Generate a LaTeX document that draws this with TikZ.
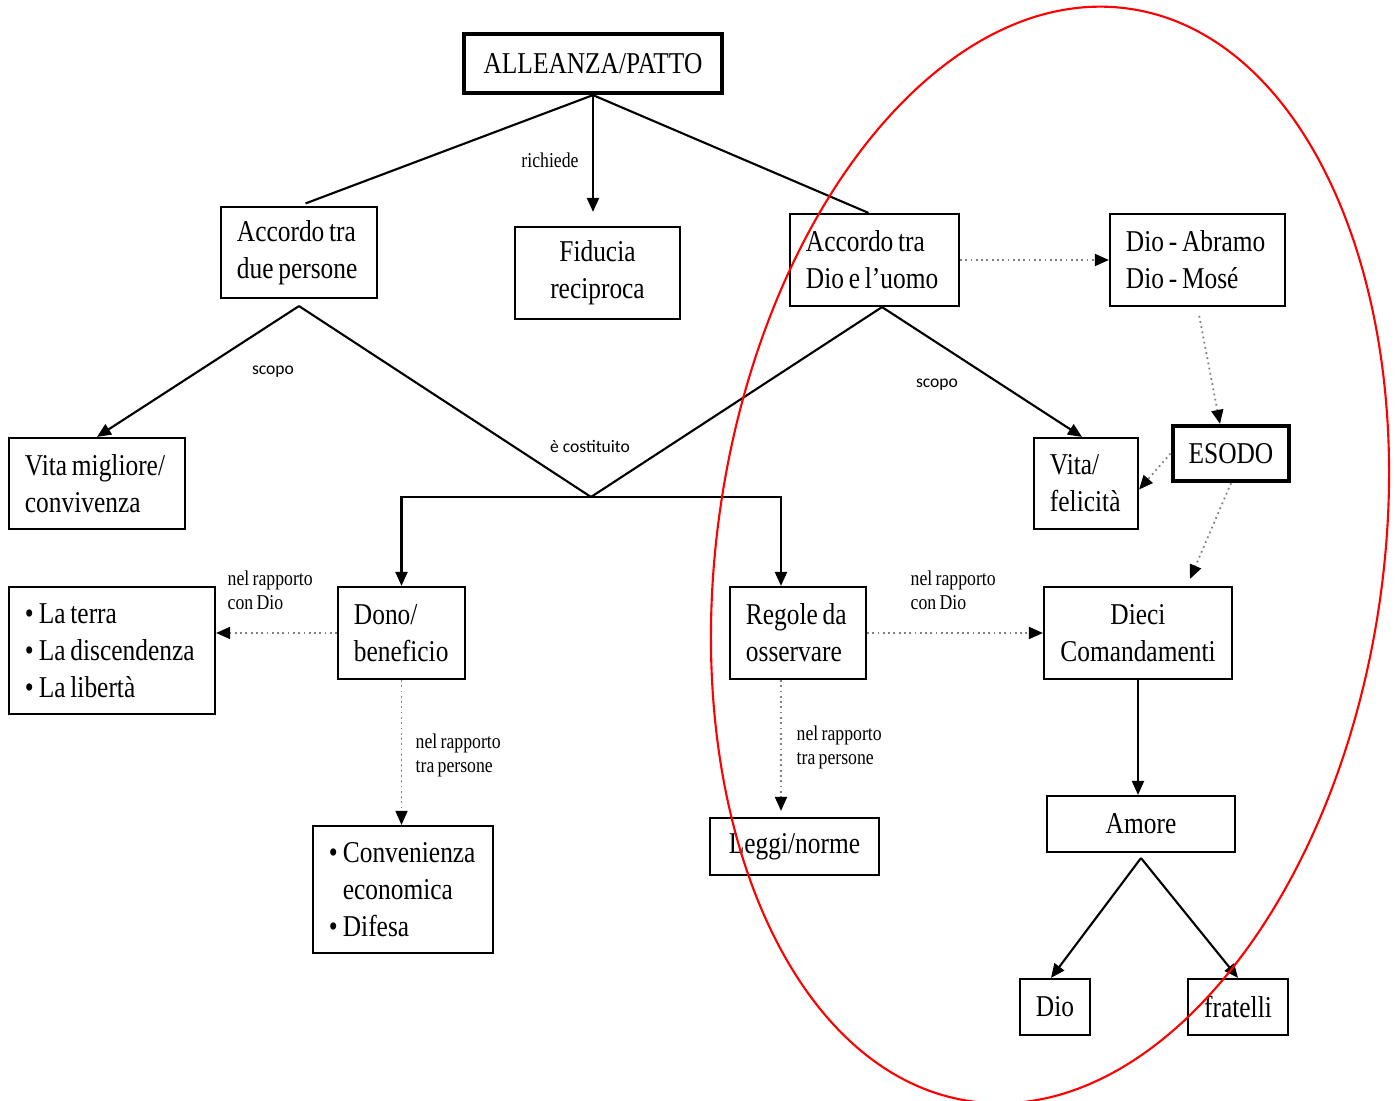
\documentclass[tikz,border=0pt]{standalone}
\usepackage{fontspec}
\setmainfont{Liberation Serif}[FakeStretch=0.84, WordSpace=0.75]
\newfontfamily\labsans{Carlito}
\usetikzlibrary{arrows.meta}

\begin{document}
\begin{tikzpicture}[x=0.01cm, y=-0.01cm,
    box/.style={draw, line width=0.6pt, inner xsep=0.16cm, inner ysep=0pt, align=center, font=\fontsize{8.6}{10.5}\selectfont},
    lbox/.style={box, align=flush left},
    bigbox/.style={box, line width=1.2pt},
    conn/.style={line width=0.6pt},
    arr/.style={conn, -{Triangle[length=0.14cm, width=0.12cm]}},
    darr/.style={line width=0.5pt, densely dotted, draw=black!50, -{Triangle[length=0.14cm, width=0.12cm, color=black]}},
    lab/.style={inner sep=0pt, align=flush left, font=\fontsize{6}{6.8}\selectfont},
    sans/.style={inner sep=0pt, font=\labsans\fontsize{5}{6}\selectfont}]
    \useasboundingbox (0,0) rectangle (1399,1101);

    % Top
    \node[bigbox, minimum width=2.58cm, minimum height=0.59cm] (alleanza) at (593,63.5) {ALLEANZA/PATTO};

    % Second row
    \node[lbox, text width=1.24cm, minimum height=0.91cm] (duepers) at (299,252.5) {Accordo tra\\due persone};
    \node[box, minimum width=1.65cm, minimum height=0.92cm] (fiducia) at (597.5,273) {Fiducia\\reciproca};
    \node[lbox, text width=1.37cm, minimum height=0.92cm] (dioumo) at (874.5,260) {Accordo tra\\Dio e l’uomo};
    \node[lbox, text width=1.43cm, minimum height=0.92cm] (abramo) at (1197.5,260) {Dio - Abramo\\Dio - Mosé};

    % Third row
    \node[lbox, text width=1.44cm, minimum height=0.91cm] (vitam) at (97,483.5) {Vita migliore/\\convivenza};
    \node[lbox, text width=0.72cm, minimum height=0.91cm] (vitaf) at (1086,483.5) {Vita/\\felicità};
    \node[bigbox, minimum width=1.16cm, minimum height=0.55cm] (esodo) at (1231,453.5) {ESODO};

    % Fourth row
    \node[lbox, text width=1.74cm, minimum height=1.27cm] (doni) at (112,650.5) {\textbullet\,La terra\\\textbullet\,La discendenza\\\textbullet\,La libertà};
    \node[lbox, text width=0.95cm, minimum height=0.92cm] (dono) at (401.5,633) {Dono/\\beneficio};
    \node[lbox, text width=1.04cm, minimum height=0.92cm] (regole) at (798,633) {Regole da\\osservare};
    \node[box, minimum width=1.88cm, minimum height=0.92cm] (dieci) at (1138,633) {Dieci\\Comandamenti};

    % Bottom
    \node[lbox, text width=1.48cm, minimum height=1.27cm] (conv) at (403,889.5) {\textbullet\,Convenienza\\\phantom{\textbullet\,}economica\\\textbullet\,Difesa};
    \node[box, minimum width=1.69cm, minimum height=0.57cm] (leggi) at (794.5,846.5) {Leggi/norme};
    \node[box, minimum width=1.88cm, minimum height=0.56cm] (amore) at (1141,824) {Amore};
    \node[box, minimum width=0.70cm, minimum height=0.56cm] (dio) at (1055,1007) {Dio};
    \node[box, minimum width=1.00cm, minimum height=0.56cm] (fratelli) at (1238,1007) {fratelli};

    % Solid connectors
    \coordinate (joint) at (591,497);
    \draw[conn, shorten >=0.07cm] (alleanza.south) -- (duepers.north);
    \draw[conn] (alleanza.south) -- ([xshift=-0.06cm]dioumo.north);
    \draw[arr, shorten >=0.14cm] (alleanza.south) -- (alleanza.south |- fiducia.north);
    \draw[arr] ([yshift=-0.07cm]duepers.south) -- (vitam.north);
    \draw[conn] ([yshift=-0.07cm]duepers.south) -- (joint);
    \draw[conn] ([xshift=0.075cm]dioumo.south) -- (joint);
    \draw[arr] ([xshift=0.075cm]dioumo.south) -- ([xshift=-0.04cm]vitaf.north);
    \draw[arr] (joint) -| (dono.north);
    \draw[arr] (joint) -| ([xshift=-0.17cm]regole.north);
    \draw[arr] (dieci.south) -- (dieci.south |- amore.north);
    \draw[arr] ([yshift=-0.05cm]amore.south) -- ([xshift=-0.04cm]dio.north);
    \draw[arr] ([yshift=-0.05cm]amore.south) -- (fratelli.north);

    % Dotted connectors
    \draw[darr] (dioumo.east) -- (abramo.west);
    \draw[darr, shorten <=0.09cm] (abramo.south) -- ([xshift=-0.11cm]esodo.north);
    \draw[darr] (esodo.west) -- ([yshift=-0.06cm]vitaf.east);
    \draw[darr] (esodo.south) -- ([xshift=0.52cm, yshift=0.07cm]dieci.north);
    \draw[darr] (dono.west) -- (dono.west -| doni.east);
    \draw[darr] (dono.south) -- (dono.south |- conv.north);
    \draw[darr] (regole.east) -- (dieci.west);
    \draw[darr, shorten >=0.06cm] ([xshift=-0.17cm]regole.south) -- ([xshift=-0.17cm]regole.south |- leggi.north);

    % Connector labels
    \node[lab] (lrichiede) at (550,160) {richiede};
    \node[sans] (lscopo1) at (273,372) {scopo};
    \node[sans] (lscopo2) at (937,385) {scopo};
    \node[sans] (lcostit) at (590,446) {è costituito};
    \node[lab, anchor=west] (ldio1) at (227,590) {nel rapporto\\con Dio};
    \node[lab, anchor=west] (lpers1) at (415,755) {nel rapporto\\tra persone};
    \node[lab, anchor=west] (ldio2) at (910,590) {nel rapporto\\con Dio};
    \node[lab, anchor=west] (lpers2) at (796,747) {nel rapporto\\tra persone};

    % Red ellipse
    \draw[red, line width=0.6pt, rotate around={-8.3:(1050,555)}] (1050,555) ellipse [x radius=333, y radius=552];
\end{tikzpicture}
\end{document}
